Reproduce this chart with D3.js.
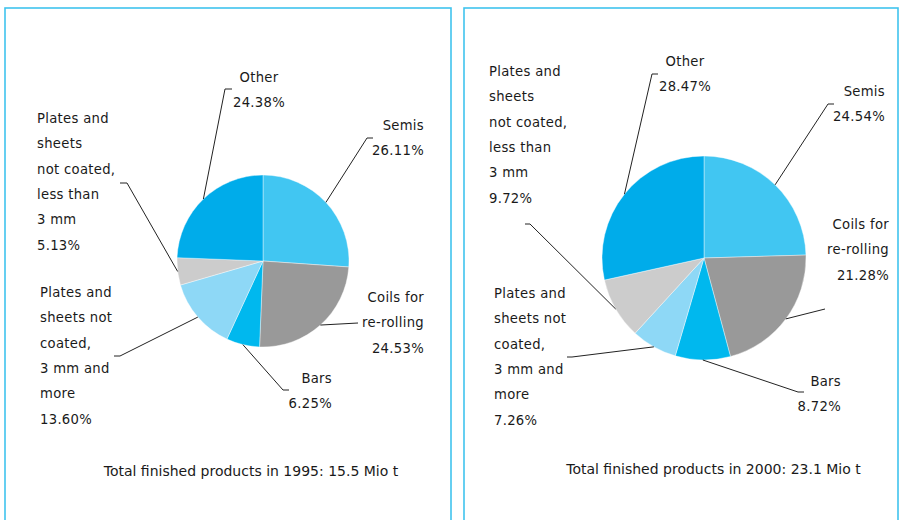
<!DOCTYPE html>
<html>
<head>
<meta charset="utf-8">
<script src="https://cdn.jsdelivr.net/npm/d3@7/dist/d3.min.js"></script>
<style>
  html, body { margin: 0; padding: 0; background: #fff; }
  svg { display: block; }
  text { font-family: "DejaVu Sans", Verdana, sans-serif; fill: #1a1a1a; }
</style>
</head>
<body>
<svg id="chart" width="901" height="520"></svg>
<script>
// Product groups, in clockwise order from 12 o'clock
const categories = ["Semis", "Coils for re-rolling", "Bars",
  "Plates and sheets not coated, 3 mm and more",
  "Plates and sheets not coated, less than 3 mm", "Other"];
// Label text broken into lines
const labelLines = [
  ["Semis"],
  ["Coils for", "re-rolling"],
  ["Bars"],
  ["Plates and", "sheets not", "coated,", "3 mm and", "more"],
  ["Plates and", "sheets", "not coated,", "less than", "3 mm"],
  ["Other"]
];
const years = [1995, 2000];
const totalsMio = [15.5, 23.1];
const shares1995 = [26.11, 24.53, 6.25, 13.60, 5.13, 24.38];
const shares2000 = [24.54, 21.28, 8.72, 7.26, 9.72, 28.47];
const sliceColors = ["#41c6f2", "#999999", "#00b8ee", "#8ed8f6", "#cccccc", "#00acea"];

// Panel layout: frame, pie centre/radius, label anchors and leader elbows
const panels = [
  {
    shares: shares1995, frame: [5, 8, 446, 530], cx: 263, cy: 261, r: 86, totalY: 471, totalX: 251,
    labels: [
      { x: 424, y: 125, anchor: "end",    elbow: [367, 138], tick: 6 },
      { x: 424, y: 297, anchor: "end",    elbow: [358, 323], tick: 0 },
      { x: 332, y: 378, anchor: "end",    elbow: [283, 390], tick: 6 },
      { x: 40,  y: 292, anchor: "start",  elbow: [120, 356], tick: -6 },
      { x: 37,  y: 118, anchor: "start",  elbow: [127, 183], tick: -7 },
      { x: 259, y: 77,  anchor: "middle", elbow: [225, 89],  tick: 7 }
    ]
  },
  {
    shares: shares2000, frame: [464, 8, 434, 530], cx: 704, cy: 258, r: 102, totalY: 469, totalX: 713.5,
    labels: [
      { x: 885, y: 91,  anchor: "end",    elbow: [828, 104], tick: 6 },
      { x: 889, y: 224, anchor: "end",    elbow: [825, 309], tick: 0 },
      { x: 841, y: 381, anchor: "end",    elbow: [798, 392], tick: 6 },
      { x: 494, y: 293, anchor: "start",  elbow: [572, 357], tick: -5 },
      { x: 489, y: 71,  anchor: "start",  elbow: [530, 224], tick: -5 },
      { x: 685, y: 61,  anchor: "middle", elbow: [652, 74],  tick: 6 }
    ]
  }
];

const svg = d3.select("#chart");
const lineGap = 25.4;

const pie = d3.pie().sort(null).value(d => d);

panels.forEach((p, pi) => {
  const g = svg.append("g");

  // blue frame around each panel
  g.append("rect")
    .attr("x", p.frame[0]).attr("y", p.frame[1])
    .attr("width", p.frame[2]).attr("height", p.frame[3])
    .attr("fill", "none").attr("stroke", "#40c4ee").attr("stroke-width", 1.6);

  const arc = d3.arc().innerRadius(0).outerRadius(p.r);
  const arcs = pie(p.shares);

  const pg = g.append("g").attr("transform", `translate(${p.cx},${p.cy})`);
  pg.selectAll("path").data(arcs).join("path")
    .attr("d", arc)
    .attr("fill", (d, i) => sliceColors[i])
    .attr("stroke", "#ffffff").attr("stroke-width", 0.4);

  // leader lines: from mid-angle on the rim to the label elbow, plus short tick
  arcs.forEach((d, i) => {
    const lab = p.labels[i];
    const a = (d.startAngle + d.endAngle) / 2;
    const rimX = p.cx + p.r * Math.sin(a);
    const rimY = p.cy - p.r * Math.cos(a);
    const pts = [[rimX, rimY], lab.elbow];
    if (lab.tick) pts.push([lab.elbow[0] + lab.tick, lab.elbow[1]]);
    g.append("path")
      .attr("d", d3.line()(pts))
      .attr("fill", "none").attr("stroke", "#222").attr("stroke-width", 1);

    const lines = labelLines[i].concat([p.shares[i].toFixed(2) + "%"]);
    const t = g.append("text")
      .attr("text-anchor", lab.anchor)
      .attr("font-size", 13.2)
      .attr("letter-spacing", 0.3);
    lines.forEach((s, k) => {
      t.append("tspan")
        .attr("x", lab.x)
        .attr("y", lab.y + k * lineGap)
        .attr("dy", "0.36em")
        .text(s);
    });
  });

  g.append("text")
    .attr("x", p.totalX).attr("y", p.totalY).attr("dy", "0.36em")
    .attr("text-anchor", "middle")
    .attr("font-family", "'DejaVu Sans Condensed', 'DejaVu Sans', sans-serif")
    .attr("font-size", 14)
    .text(`Total finished products in ${years[pi]}: ${totalsMio[pi]} Mio t`);
});
</script>
</body>
</html>
